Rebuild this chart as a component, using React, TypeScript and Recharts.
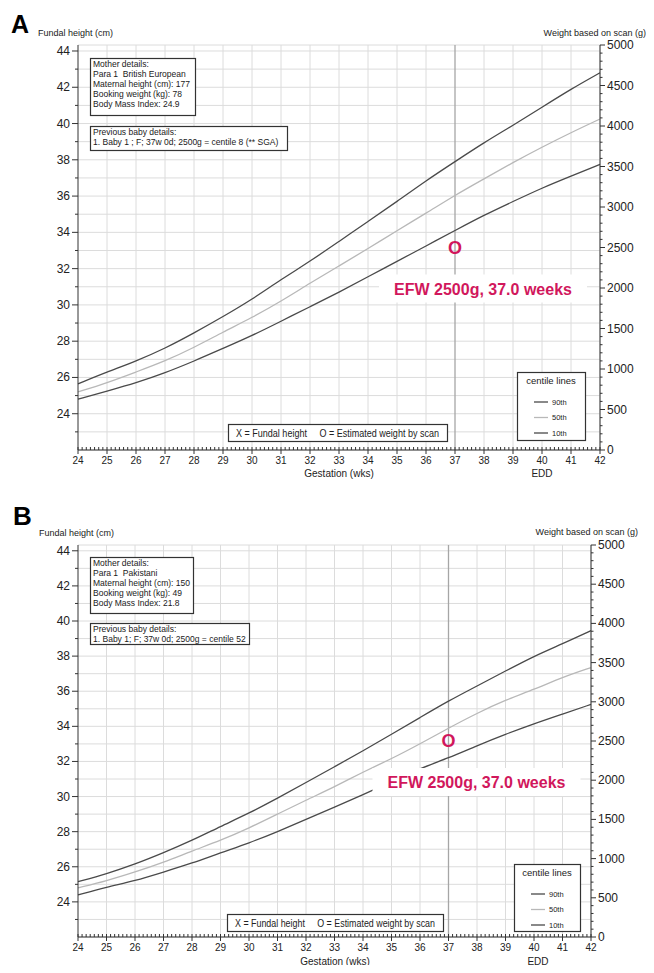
import React from 'react'
import {
  ComposedChart,
  Line,
  Scatter,
  XAxis,
  YAxis,
  CartesianGrid,
  ReferenceLine,
} from 'recharts'

const FONT = "'Liberation Sans', Arial, sans-serif"
const DARK = '#4a4a4a'
const LIGHT = '#b8b8b8'
const ANNOT = '#d1175c'

// gestation weeks (x axis)
const weeks = [24, 25, 26, 27, 28, 29, 30, 31, 32, 33, 34, 35, 36, 37, 38, 39, 40, 41, 42]
// left axis labels (cm) and right axis labels (g)
const fundalLabels = [24, 26, 28, 30, 32, 34, 36, 38, 40, 42, 44]
const weightLabels = [0, 500, 1000, 1500, 2000, 2500, 3000, 3500, 4000, 4500, 5000]

// centile lines, in cm on the left axis
const a90 = [25.65, 26.3, 26.9, 27.6, 28.45, 29.35, 30.3, 31.4, 32.4, 33.5, 34.6, 35.7, 36.85, 37.9, 38.95, 39.9, 40.9, 41.9, 42.8]
const a50 = [25.2, 25.7, 26.3, 26.9, 27.65, 28.5, 29.3, 30.2, 31.2, 32.15, 33.1, 34.1, 35.05, 36.05, 36.95, 37.85, 38.7, 39.5, 40.25]
const a10 = [24.8, 25.25, 25.7, 26.25, 26.9, 27.6, 28.3, 29.1, 29.9, 30.7, 31.55, 32.4, 33.25, 34.1, 34.95, 35.7, 36.45, 37.1, 37.75]

const b90 = [25.15, 25.6, 26.15, 26.8, 27.5, 28.3, 29.05, 29.9, 30.8, 31.7, 32.6, 33.55, 34.5, 35.45, 36.3, 37.15, 38.0, 38.7, 39.45]
const b50 = [24.8, 25.2, 25.7, 26.25, 26.9, 27.5, 28.2, 29.0, 29.8, 30.55, 31.4, 32.15, 33.0, 33.9, 34.75, 35.5, 36.1, 36.8, 37.35]
const b10 = [24.4, 24.85, 25.2, 25.7, 26.2, 26.8, 27.35, 28.0, 28.7, 29.4, 30.1, 30.85, 31.6, 32.2, 32.9, 33.55, 34.15, 34.7, 35.25]

// estimated fetal weight by scan
const efwA = [{ week: 37, weight: 2500 }]
const efwB = [{ week: 37, weight: 2500 }]

const motherA = ['Mother details:', 'Para 1  British European', 'Maternal height (cm): 177', 'Booking weight (kg): 78', 'Body Mass Index: 24.9']
const prevA = ['Previous baby details:', '1. Baby 1 ; F; 37w 0d; 2500g = centile 8 (** SGA)']
const motherB = ['Mother details:', 'Para 1  Pakistani', 'Maternal height (cm): 150', 'Booking weight (kg): 49', 'Body Mass Index: 21.8']
const prevB = ['Previous baby details:', '1. Baby 1; F; 37w 0d; 2500g = centile 52']

const centiles = ['90th', '50th', '10th']

// minor tick positions
const dayTicks: number[] = []
weeks.forEach((w) => {
  if (w === 42) dayTicks.push(w)
  else for (let d = 0; d < 7; d++) dayTicks.push(w + d / 7)
})
const cmTicks: number[] = []
for (let c = 23; c <= 44; c++) cmTicks.push(c)
const gTicks: number[] = []
for (let g = 0; g <= 5000; g += 100) gTicks.push(g)

const WeekTick = (props: any) => {
  const { x, y, payload } = props
  const v = payload.value
  const major = Math.abs(v - Math.round(v)) < 1e-6
  if (!major) return <line x1={x} x2={x} y1={y} y2={y - 3} stroke="#333" />
  return (
    <g>
      <line x1={x} x2={x} y1={y - 3} y2={y + 4} stroke="#333" />
      <text x={x} y={y + 13.5} textAnchor="middle" fontSize={10} fill="#222" fontFamily={FONT}>
        {Math.round(v)}
      </text>
    </g>
  )
}

const CmTick = (props: any) => {
  const { x, y, payload } = props
  const v = payload.value
  const major = fundalLabels.includes(v)
  return (
    <g>
      <line x1={x} x2={x - (major ? 6 : 3)} y1={y} y2={y} stroke="#333" />
      {major && (
        <text x={x - 8} y={y + 4} textAnchor="end" fontSize={12} fill="#222" fontFamily={FONT}>
          {v}
        </text>
      )}
    </g>
  )
}

const GTick = (props: any) => {
  const { x, y, payload } = props
  const v = payload.value
  const major = weightLabels.includes(v)
  return (
    <g>
      <line x1={x} x2={x + (major ? 5 : 2.5)} y1={y} y2={y} stroke="#333" />
      {major && (
        <text x={x + 7} y={y + 4} textAnchor="start" fontSize={12} fill="#222" fontFamily={FONT}>
          {v}
        </text>
      )}
    </g>
  )
}

const EfwMark = (props: any) => {
  const { cx, cy, payload } = props
  const tx = cx + 28
  const ty = cy + 41
  return (
    <g fontFamily={FONT} fontWeight="bold" fill={ANNOT}>
      <text x={cx} y={cy + 6} textAnchor="middle" fontSize={18}>
        O
      </text>
      <rect x={tx - 104} y={ty - 14} width={208} height={28} fill="#fff" />
      <text x={tx} y={ty + 6} textAnchor="middle" fontSize={16}>
        {`EFW ${payload.weight}g, ${payload.week.toFixed(1)} weeks`}
      </text>
    </g>
  )
}

const InfoBox = ({ x, y, w, h, lines }: any) => (
  <g>
    <rect x={x + 0.5} y={y + 0.5} width={w} height={h} fill="#fff" stroke="#333" strokeWidth={1.2} />
    <g transform={`translate(${x + 3} 0) scale(0.87 1)`}>
      {lines.map((t: string, i: number) => (
        <text key={i} x={0} y={y + 9 + i * 10} fontSize={9.8} fill="#1a1a1a" fontFamily={FONT} style={{ whiteSpace: 'pre' }}>
          {t}
        </text>
      ))}
    </g>
  </g>
)

const CentileBox = ({ x, y, w, h }: any) => (
  <g fontFamily={FONT} fill="#222">
    <rect x={x + 0.5} y={y + 0.5} width={w} height={h} fill="#fff" stroke="#333" strokeWidth={1.2} />
    <text x={x + w / 2} y={y + 12} textAnchor="middle" fontSize={9.5}>
      centile lines
    </text>
    {centiles.map((c, i) => (
      <g key={c}>
        <line x1={x + 17} x2={x + 31} y1={y + 30 + i * 15.5} y2={y + 30 + i * 15.5} stroke={i === 1 ? LIGHT : DARK} strokeWidth={1.3} />
        <text x={x + 35} y={y + 32.5 + i * 15.5} fontSize={7.5}>
          {c}
        </text>
      </g>
    ))}
  </g>
)

const KeyBox = ({ x, y, w, h }: any) => (
  <g fontFamily={FONT} fill="#222">
    <rect x={x + 0.5} y={y + 0.5} width={w} height={h} fill="#fff" stroke="#333" strokeWidth={1.2} />
    <text x={x + 8} y={y + 12.5} fontSize={10.5} textLength={w - 16} lengthAdjust="spacingAndGlyphs" style={{ whiteSpace: 'pre' }}>
      {'X = Fundal height     O = Estimated weight by scan'}
    </text>
  </g>
)

const Panel = ({ cfg }: any) => {
  const data = weeks.map((w, i) => ({ week: w, p90: cfg.p90[i], p50: cfg.p50[i], p10: cfg.p10[i] }))
  const o = cfg.overlay
  return (
    <div style={{ position: 'relative', width: 654, height: cfg.height }}>
      <ComposedChart width={654} height={cfg.height} data={data} margin={cfg.margin}>
        <CartesianGrid yAxisId="left" vertical={false} stroke="#dcdcdc" />
        {weeks.slice(1).map((w) => (
          <ReferenceLine key={w} x={w} yAxisId="left" stroke={w === 37 ? '#a6a6a6' : '#dcdcdc'} strokeWidth={w === 37 ? 1.3 : 1} />
        ))}
        <XAxis
          type="number"
          dataKey="week"
          domain={[24, 42]}
          ticks={dayTicks}
          interval={0}
          tickSize={0}
          tickMargin={0}
          tickLine={false}
          tick={WeekTick}
          axisLine={{ stroke: '#333' }}
          height={30}
        />
        <YAxis
          yAxisId="left"
          orientation="left"
          type="number"
          domain={[22, 44.33]}
          ticks={cmTicks}
          interval={0}
          tickSize={0}
          tickMargin={0}
          tickLine={false}
          tick={CmTick}
          axisLine={{ stroke: '#333' }}
          width={40}
          allowDataOverflow
        />
        <YAxis
          yAxisId="right"
          orientation="right"
          type="number"
          domain={[0, 5000]}
          ticks={gTicks}
          interval={0}
          tickSize={0}
          tickMargin={0}
          tickLine={false}
          tick={GTick}
          axisLine={{ stroke: '#333' }}
          width={44}
        />
        <Line yAxisId="left" dataKey="p90" type="basis" stroke={DARK} strokeWidth={1.3} dot={false} isAnimationActive={false} />
        <Line yAxisId="left" dataKey="p50" type="basis" stroke={LIGHT} strokeWidth={1.3} dot={false} isAnimationActive={false} />
        <Line yAxisId="left" dataKey="p10" type="basis" stroke={DARK} strokeWidth={1.3} dot={false} isAnimationActive={false} />
        <Scatter yAxisId="right" data={cfg.efw} dataKey="weight" shape={EfwMark} isAnimationActive={false} />
      </ComposedChart>
      <svg width={654} height={cfg.height} style={{ position: 'absolute', left: 0, top: 0, pointerEvents: 'none' }}>
        <text x={o.letter[0]} y={o.letter[1]} fontSize={o.letter[2]} fontWeight="bold" fontFamily={FONT} fill="#000">
          {cfg.letter}
        </text>
        <text x={o.fundal[0]} y={o.fundal[1]} fontSize={9} fontFamily={FONT} fill="#222">
          Fundal height (cm)
        </text>
        <text x={o.weight[0]} y={o.weight[1]} fontSize={9} fontFamily={FONT} fill="#222" textAnchor="end">
          Weight based on scan (g)
        </text>
        <InfoBox x={o.mother[0]} y={o.mother[1]} w={o.mother[2]} h={o.mother[3]} lines={cfg.mother} />
        <InfoBox x={o.prev[0]} y={o.prev[1]} w={o.prev[2]} h={o.prev[3]} lines={cfg.prev} />
        <KeyBox x={o.key[0]} y={o.key[1]} w={o.key[2]} h={o.key[3]} />
        <CentileBox x={o.cent[0]} y={o.cent[1]} w={o.cent[2]} h={o.cent[3]} />
        <text x={o.gest[0]} y={o.gest[1]} fontSize={10} fontFamily={FONT} fill="#222" textAnchor="middle">
          Gestation (wks)
        </text>
        <text x={o.edd[0]} y={o.edd[1]} fontSize={10} fontFamily={FONT} fill="#222" textAnchor="middle">
          EDD
        </text>
      </svg>
    </div>
  )
}

const panelA = {
  letter: 'A',
  height: 490,
  margin: { top: 45, right: 10, left: 38, bottom: 10 },
  p90: a90,
  p50: a50,
  p10: a10,
  efw: efwA,
  mother: motherA,
  prev: prevA,
  overlay: {
    letter: [11, 33, 25],
    fundal: [38, 36],
    weight: [646, 36],
    mother: [90, 58, 105, 57],
    prev: [90, 126, 197, 24],
    key: [228, 424, 219, 17],
    cent: [517, 372, 68, 68],
    gest: [339, 477],
    edd: [542, 477],
  },
}

const panelB = {
  letter: 'B',
  height: 483,
  margin: { top: 55, right: 19, left: 38, bottom: 6 },
  p90: b90,
  p50: b50,
  p10: b10,
  efw: efwB,
  mother: motherB,
  prev: prevB,
  overlay: {
    letter: [13, 35, 26],
    fundal: [39, 46],
    weight: [638, 45],
    mother: [90, 67, 103, 56],
    prev: [90, 133, 159, 21],
    key: [227, 424, 216, 17],
    cent: [514, 374, 66, 67],
    gest: [335, 475],
    edd: [538, 475],
  },
}

export default function App() {
  return (
    <div style={{ margin: -8, width: 654, height: 973, background: '#fff', overflow: 'hidden' }}>
      <Panel cfg={panelA} />
      <Panel cfg={panelB} />
    </div>
  )
}
